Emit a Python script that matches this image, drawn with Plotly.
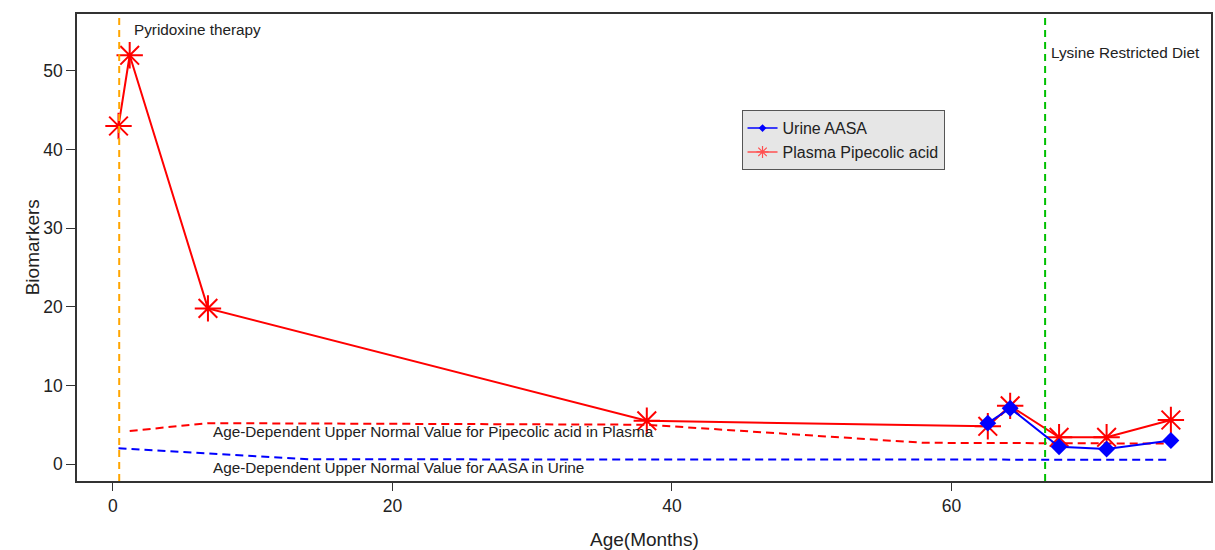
import plotly.graph_objects as go

# ---- data ----
plasma_age = [0.4, 1.2, 6.8, 38.2, 62.6, 64.2, 67.7, 71.1, 75.7]
plasma_pip = [43.0, 52.0, 19.8, 5.5, 4.8, 7.4, 3.4, 3.4, 5.6]

urine_age = [62.6, 64.2, 67.7, 71.1, 75.7]
urine_aasa = [5.2, 7.1, 2.2, 1.9, 3.0]

plasma_norm_age = [1.2, 6.8, 38.2, 58.0, 75.7]
plasma_norm_val = [4.2, 5.2, 5.0, 2.7, 2.6]

urine_norm_age = [0.4, 6.8, 14.0, 75.7]
urine_norm_val = [2.0, 1.3, 0.6, 0.55]

pyridoxine_age = 0.45
lysine_diet_age = 66.7

x_ticks = [0, 20, 40, 60]
y_ticks = [0, 10, 20, 30, 40, 50]

FONT = "Liberation Sans, Arial, sans-serif"
TXT = "#222222"

fig = go.Figure()

fig.add_trace(go.Scatter(
    x=plasma_norm_age, y=plasma_norm_val, mode="lines",
    line=dict(color="#FF0000", width=2, dash="8px,5px"),
    showlegend=False, hoverinfo="skip"))
fig.add_trace(go.Scatter(
    x=urine_norm_age, y=urine_norm_val, mode="lines",
    line=dict(color="#0000FF", width=2, dash="8px,5px"),
    showlegend=False, hoverinfo="skip"))

fig.add_trace(go.Scatter(
    x=plasma_age, y=plasma_pip, mode="lines+markers",
    name="Plasma Pipecolic acid", showlegend=False,
    line=dict(color="#FF0000", width=2),
    marker=dict(symbol="asterisk-open", size=22, color="#FF0000",
                line=dict(color="#FF0000", width=2))))
fig.add_trace(go.Scatter(
    x=urine_age, y=urine_aasa, mode="lines+markers",
    name="Urine AASA", showlegend=False,
    line=dict(color="#0000FF", width=2),
    marker=dict(symbol="diamond", size=13, color="#0000FF")))

# legend-only entries (thin style as in the reference legend)
fig.add_trace(go.Scatter(
    x=[None], y=[None], mode="lines+markers", name="Urine AASA", legendrank=1,
    line=dict(color="#0000FF", width=1.5),
    marker=dict(symbol="diamond", size=6, color="#0000FF")))
fig.add_trace(go.Scatter(
    x=[None], y=[None], mode="lines+markers", name="Plasma Pipecolic acid", legendrank=2,
    line=dict(color="#FF5050", width=1.5),
    marker=dict(symbol="asterisk-open", size=10, color="#FF5050",
                line=dict(color="#FF5050", width=1.2))))

# vertical event lines
fig.add_shape(type="line", xref="x", yref="paper", x0=pyridoxine_age, x1=pyridoxine_age,
              y0=0, y1=1, line=dict(color="#FFA500", width=2, dash="7px,5px"))
fig.add_shape(type="line", xref="x", yref="paper", x0=lysine_diet_age, x1=lysine_diet_age,
              y0=0, y1=1, line=dict(color="#00C000", width=2, dash="7px,5px"))

ann_font = dict(family=FONT, size=15.3, color=TXT)
fig.add_annotation(x=1.4, y=55.3, text="Pyridoxine therapy", showarrow=False,
                   xanchor="left", yanchor="middle", font=ann_font)
fig.add_annotation(x=67.0, y=52.3, text="Lysine Restricted Diet", showarrow=False,
                   xanchor="left", yanchor="middle", font=ann_font)
fig.add_annotation(x=7.0, y=4.2, text="Age-Dependent Upper Normal Value for Pipecolic acid in Plasma",
                   showarrow=False, xanchor="left", yanchor="middle", font=ann_font)
fig.add_annotation(x=7.0, y=-0.5, text="Age-Dependent Upper Normal Value for AASA in Urine",
                   showarrow=False, xanchor="left", yanchor="middle", font=ann_font)

# axis titles
title_font = dict(family=FONT, size=19, color=TXT)
fig.add_annotation(xref="paper", yref="paper", x=-0.050, y=0.5, text="Biomarkers",
                   textangle=-90, showarrow=False, font=title_font)
fig.add_annotation(xref="paper", yref="paper", x=0.5, y=-0.126, text="Age(Months)",
                   showarrow=False, font=title_font, yanchor="middle")

fig.update_layout(
    width=1215, height=550,
    margin=dict(l=77, r=2, t=14, b=69),
    paper_bgcolor="white", plot_bgcolor="white",
    font=dict(family=FONT, size=16, color=TXT),
    showlegend=True,
    legend=dict(x=0.586, y=0.794, xanchor="left", yanchor="top",
                bgcolor="#E6E6E6", bordercolor="#555555", borderwidth=1,
                font=dict(family=FONT, size=16, color=TXT),
                itemwidth=30, tracegroupgap=0),
    xaxis=dict(range=[-2.57, 78.57], tickvals=x_ticks, ticks="outside", ticklen=8,
               tickcolor="#333333", showline=True, linecolor="#333333", linewidth=1.5,
               mirror=True, showgrid=False, zeroline=False,
               tickfont=dict(family=FONT, size=17.5, color=TXT)),
    yaxis=dict(range=[-2.16, 57.25], tickvals=y_ticks, ticks="outside", ticklen=9,
               tickcolor="#333333", showline=True, linecolor="#333333", linewidth=1.5,
               mirror=True, showgrid=False, zeroline=False,
               tickfont=dict(family=FONT, size=17.5, color=TXT)),
)

fig.write_html("out.html", config={"displayModeBar": False},
               post_script="document.body.style.margin='0';document.body.style.overflow='hidden';")
